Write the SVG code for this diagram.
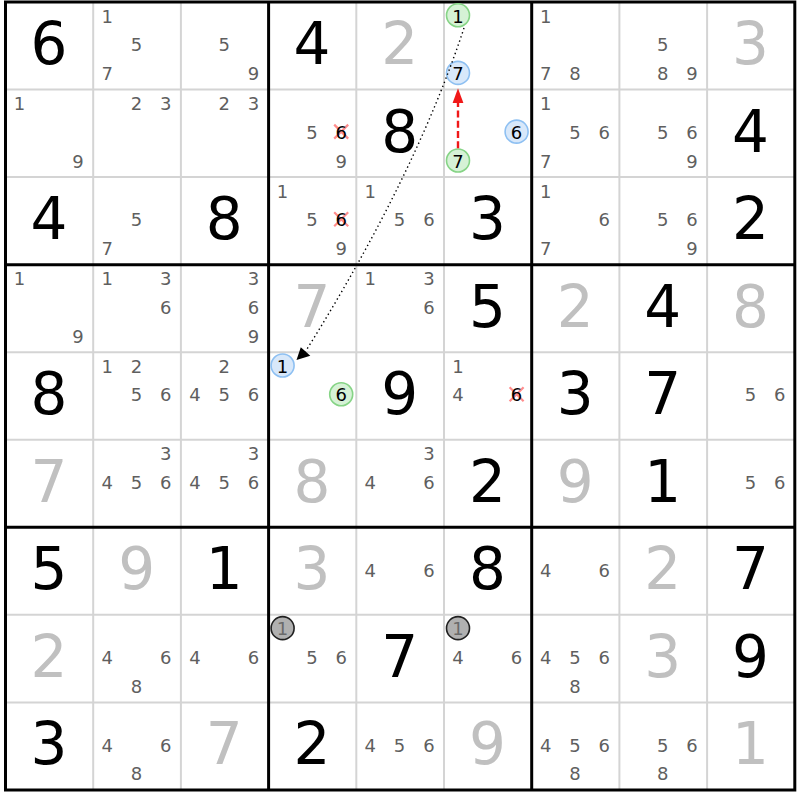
<svg xmlns="http://www.w3.org/2000/svg" width="800" height="800" viewBox="0 0 800 800">
<style>
text{font-family:"DejaVu Sans",Verdana,sans-serif;text-anchor:middle}
.g{font-size:58px;fill:#000}
.s{font-size:58px;fill:#c0c0c0}
.c{font-size:18px;fill:#5f5f5f}
.cb{font-size:18px;fill:#000}
.cg{font-size:18px;fill:#6a6a6a}
.hg{fill:#d6f2d6;stroke:#86d486;stroke-width:1.6}
.hb{fill:#d8e8fa;stroke:#8ec0f2;stroke-width:1.6}
.hk{fill:#b0b0b0;stroke:#202020;stroke-width:1.6}
.x{stroke:#ff8c8c;stroke-width:2.2;fill:none}
.thin{stroke:#d4d4d4;stroke-width:2}
.thick{stroke:#000;stroke-width:3}
</style>
<rect x="0" y="0" width="800" height="800" fill="#fff"/>
<g id="grid">
<g class="thin">
<line x1="93.2" y1="2" x2="93.2" y2="790"/><line x1="180.9" y1="2" x2="180.9" y2="790"/>
<line x1="356.3" y1="2" x2="356.3" y2="790"/><line x1="444" y1="2" x2="444" y2="790"/>
<line x1="619.4" y1="2" x2="619.4" y2="790"/><line x1="707.1" y1="2" x2="707.1" y2="790"/>
<line x1="5.5" y1="89.55" x2="794.8" y2="89.55"/><line x1="5.5" y1="177.1" x2="794.8" y2="177.1"/>
<line x1="5.5" y1="352.2" x2="794.8" y2="352.2"/><line x1="5.5" y1="439.75" x2="794.8" y2="439.75"/>
<line x1="5.5" y1="614.85" x2="794.8" y2="614.85"/><line x1="5.5" y1="702.4" x2="794.8" y2="702.4"/>
</g>
<g class="thick">
<line x1="268.6" y1="2" x2="268.6" y2="790"/><line x1="531.7" y1="2" x2="531.7" y2="790"/>
<line x1="5.5" y1="264.65" x2="794.8" y2="264.65"/><line x1="5.5" y1="527.3" x2="794.8" y2="527.3"/>
<rect x="5.5" y="2" width="789.3" height="788" fill="none"/>
</g>
</g>
<g id="cells">
<!-- row 0 -->
<g id="r0c0" transform="translate(5.5,2)"><text class="g" x="43.4" y="62">6</text></g>
<g id="r0c1" transform="translate(93.2,2)"><text class="c" x="14" y="20.5">1</text><text class="c" x="43.3" y="49.3">5</text><text class="c" x="14" y="78.1">7</text></g>
<g id="r0c2" transform="translate(180.9,2)"><text class="c" x="43.3" y="49.3">5</text><text class="c" x="72.6" y="78.1">9</text></g>
<g id="r0c3" transform="translate(268.6,2)"><text class="g" x="43.4" y="62">4</text></g>
<g id="r0c4" transform="translate(356.3,2)"><text class="s" x="43.4" y="62">2</text></g>
<g id="r0c5" transform="translate(444,2)"><circle class="hg" cx="14" cy="13.3" r="11.5"/><text class="cb" x="14" y="20.5">1</text><circle class="hb" cx="14" cy="70.9" r="11.5"/><text class="cb" x="14" y="78.1">7</text></g>
<g id="r0c6" transform="translate(531.7,2)"><text class="c" x="14" y="20.5">1</text><text class="c" x="14" y="78.1">7</text><text class="c" x="43.3" y="78.1">8</text></g>
<g id="r0c7" transform="translate(619.4,2)"><text class="c" x="43.3" y="49.3">5</text><text class="c" x="43.3" y="78.1">8</text><text class="c" x="72.6" y="78.1">9</text></g>
<g id="r0c8" transform="translate(707.1,2)"><text class="s" x="43.4" y="62">3</text></g>
<!-- row 1 -->
<g id="r1c0" transform="translate(5.5,89.55)"><text class="c" x="14" y="20.5">1</text><text class="c" x="72.6" y="78.1">9</text></g>
<g id="r1c1" transform="translate(93.2,89.55)"><text class="c" x="43.3" y="20.5">2</text><text class="c" x="72.6" y="20.5">3</text></g>
<g id="r1c2" transform="translate(180.9,89.55)"><text class="c" x="43.3" y="20.5">2</text><text class="c" x="72.6" y="20.5">3</text></g>
<g id="r1c3" transform="translate(268.6,89.55)"><text class="c" x="43.3" y="49.3">5</text><path class="x" d="M65.6,35.1L79.6,49.1M79.6,35.1L65.6,49.1"/><text class="cb" x="72.6" y="49.3">6</text><text class="c" x="72.6" y="78.1">9</text></g>
<g id="r1c4" transform="translate(356.3,89.55)"><text class="g" x="43.4" y="62">8</text></g>
<g id="r1c5" transform="translate(444,89.55)"><circle class="hb" cx="72.6" cy="42.1" r="11.5"/><text class="cb" x="72.6" y="49.3">6</text><circle class="hg" cx="14" cy="70.9" r="11.5"/><text class="cb" x="14" y="78.1">7</text></g>
<g id="r1c6" transform="translate(531.7,89.55)"><text class="c" x="14" y="20.5">1</text><text class="c" x="43.3" y="49.3">5</text><text class="c" x="72.6" y="49.3">6</text><text class="c" x="14" y="78.1">7</text></g>
<g id="r1c7" transform="translate(619.4,89.55)"><text class="c" x="43.3" y="49.3">5</text><text class="c" x="72.6" y="49.3">6</text><text class="c" x="72.6" y="78.1">9</text></g>
<g id="r1c8" transform="translate(707.1,89.55)"><text class="g" x="43.4" y="62">4</text></g>
<!-- row 2 -->
<g id="r2c0" transform="translate(5.5,177.1)"><text class="g" x="43.4" y="62">4</text></g>
<g id="r2c1" transform="translate(93.2,177.1)"><text class="c" x="43.3" y="49.3">5</text><text class="c" x="14" y="78.1">7</text></g>
<g id="r2c2" transform="translate(180.9,177.1)"><text class="g" x="43.4" y="62">8</text></g>
<g id="r2c3" transform="translate(268.6,177.1)"><text class="c" x="14" y="20.5">1</text><text class="c" x="43.3" y="49.3">5</text><path class="x" d="M65.6,35.1L79.6,49.1M79.6,35.1L65.6,49.1"/><text class="cb" x="72.6" y="49.3">6</text><text class="c" x="72.6" y="78.1">9</text></g>
<g id="r2c4" transform="translate(356.3,177.1)"><text class="c" x="14" y="20.5">1</text><text class="c" x="43.3" y="49.3">5</text><text class="c" x="72.6" y="49.3">6</text></g>
<g id="r2c5" transform="translate(444,177.1)"><text class="g" x="43.4" y="62">3</text></g>
<g id="r2c6" transform="translate(531.7,177.1)"><text class="c" x="14" y="20.5">1</text><text class="c" x="72.6" y="49.3">6</text><text class="c" x="14" y="78.1">7</text></g>
<g id="r2c7" transform="translate(619.4,177.1)"><text class="c" x="43.3" y="49.3">5</text><text class="c" x="72.6" y="49.3">6</text><text class="c" x="72.6" y="78.1">9</text></g>
<g id="r2c8" transform="translate(707.1,177.1)"><text class="g" x="43.4" y="62">2</text></g>
<!-- row 3 -->
<g id="r3c0" transform="translate(5.5,264.65)"><text class="c" x="14" y="20.5">1</text><text class="c" x="72.6" y="78.1">9</text></g>
<g id="r3c1" transform="translate(93.2,264.65)"><text class="c" x="14" y="20.5">1</text><text class="c" x="72.6" y="20.5">3</text><text class="c" x="72.6" y="49.3">6</text></g>
<g id="r3c2" transform="translate(180.9,264.65)"><text class="c" x="72.6" y="20.5">3</text><text class="c" x="72.6" y="49.3">6</text><text class="c" x="72.6" y="78.1">9</text></g>
<g id="r3c3" transform="translate(268.6,264.65)"><text class="s" x="43.4" y="62">7</text></g>
<g id="r3c4" transform="translate(356.3,264.65)"><text class="c" x="14" y="20.5">1</text><text class="c" x="72.6" y="20.5">3</text><text class="c" x="72.6" y="49.3">6</text></g>
<g id="r3c5" transform="translate(444,264.65)"><text class="g" x="43.4" y="62">5</text></g>
<g id="r3c6" transform="translate(531.7,264.65)"><text class="s" x="43.4" y="62">2</text></g>
<g id="r3c7" transform="translate(619.4,264.65)"><text class="g" x="43.4" y="62">4</text></g>
<g id="r3c8" transform="translate(707.1,264.65)"><text class="s" x="43.4" y="62">8</text></g>
<!-- row 4 -->
<g id="r4c0" transform="translate(5.5,352.2)"><text class="g" x="43.4" y="62">8</text></g>
<g id="r4c1" transform="translate(93.2,352.2)"><text class="c" x="14" y="20.5">1</text><text class="c" x="43.3" y="20.5">2</text><text class="c" x="43.3" y="49.3">5</text><text class="c" x="72.6" y="49.3">6</text></g>
<g id="r4c2" transform="translate(180.9,352.2)"><text class="c" x="43.3" y="20.5">2</text><text class="c" x="14" y="49.3">4</text><text class="c" x="43.3" y="49.3">5</text><text class="c" x="72.6" y="49.3">6</text></g>
<g id="r4c3" transform="translate(268.6,352.2)"><circle class="hb" cx="14" cy="13.3" r="11.5"/><text class="cb" x="14" y="20.5">1</text><circle class="hg" cx="72.6" cy="42.1" r="11.5"/><text class="cb" x="72.6" y="49.3">6</text></g>
<g id="r4c4" transform="translate(356.3,352.2)"><text class="g" x="43.4" y="62">9</text></g>
<g id="r4c5" transform="translate(444,352.2)"><text class="c" x="14" y="20.5">1</text><text class="c" x="14" y="49.3">4</text><path class="x" d="M65.6,35.1L79.6,49.1M79.6,35.1L65.6,49.1"/><text class="cb" x="72.6" y="49.3">6</text></g>
<g id="r4c6" transform="translate(531.7,352.2)"><text class="g" x="43.4" y="62">3</text></g>
<g id="r4c7" transform="translate(619.4,352.2)"><text class="g" x="43.4" y="62">7</text></g>
<g id="r4c8" transform="translate(707.1,352.2)"><text class="c" x="43.3" y="49.3">5</text><text class="c" x="72.6" y="49.3">6</text></g>
<!-- row 5 -->
<g id="r5c0" transform="translate(5.5,439.75)"><text class="s" x="43.4" y="62">7</text></g>
<g id="r5c1" transform="translate(93.2,439.75)"><text class="c" x="72.6" y="20.5">3</text><text class="c" x="14" y="49.3">4</text><text class="c" x="43.3" y="49.3">5</text><text class="c" x="72.6" y="49.3">6</text></g>
<g id="r5c2" transform="translate(180.9,439.75)"><text class="c" x="72.6" y="20.5">3</text><text class="c" x="14" y="49.3">4</text><text class="c" x="43.3" y="49.3">5</text><text class="c" x="72.6" y="49.3">6</text></g>
<g id="r5c3" transform="translate(268.6,439.75)"><text class="s" x="43.4" y="62">8</text></g>
<g id="r5c4" transform="translate(356.3,439.75)"><text class="c" x="72.6" y="20.5">3</text><text class="c" x="14" y="49.3">4</text><text class="c" x="72.6" y="49.3">6</text></g>
<g id="r5c5" transform="translate(444,439.75)"><text class="g" x="43.4" y="62">2</text></g>
<g id="r5c6" transform="translate(531.7,439.75)"><text class="s" x="43.4" y="62">9</text></g>
<g id="r5c7" transform="translate(619.4,439.75)"><text class="g" x="43.4" y="62">1</text></g>
<g id="r5c8" transform="translate(707.1,439.75)"><text class="c" x="43.3" y="49.3">5</text><text class="c" x="72.6" y="49.3">6</text></g>
<!-- row 6 -->
<g id="r6c0" transform="translate(5.5,527.3)"><text class="g" x="43.4" y="62">5</text></g>
<g id="r6c1" transform="translate(93.2,527.3)"><text class="s" x="43.4" y="62">9</text></g>
<g id="r6c2" transform="translate(180.9,527.3)"><text class="g" x="43.4" y="62">1</text></g>
<g id="r6c3" transform="translate(268.6,527.3)"><text class="s" x="43.4" y="62">3</text></g>
<g id="r6c4" transform="translate(356.3,527.3)"><text class="c" x="14" y="49.3">4</text><text class="c" x="72.6" y="49.3">6</text></g>
<g id="r6c5" transform="translate(444,527.3)"><text class="g" x="43.4" y="62">8</text></g>
<g id="r6c6" transform="translate(531.7,527.3)"><text class="c" x="14" y="49.3">4</text><text class="c" x="72.6" y="49.3">6</text></g>
<g id="r6c7" transform="translate(619.4,527.3)"><text class="s" x="43.4" y="62">2</text></g>
<g id="r6c8" transform="translate(707.1,527.3)"><text class="g" x="43.4" y="62">7</text></g>
<!-- row 7 -->
<g id="r7c0" transform="translate(5.5,614.85)"><text class="s" x="43.4" y="62">2</text></g>
<g id="r7c1" transform="translate(93.2,614.85)"><text class="c" x="14" y="49.3">4</text><text class="c" x="72.6" y="49.3">6</text><text class="c" x="43.3" y="78.1">8</text></g>
<g id="r7c2" transform="translate(180.9,614.85)"><text class="c" x="14" y="49.3">4</text><text class="c" x="72.6" y="49.3">6</text></g>
<g id="r7c3" transform="translate(268.6,614.85)"><circle class="hk" cx="14" cy="13.3" r="11.5"/><text class="cg" x="14" y="20.5">1</text><text class="c" x="43.3" y="49.3">5</text><text class="c" x="72.6" y="49.3">6</text></g>
<g id="r7c4" transform="translate(356.3,614.85)"><text class="g" x="43.4" y="62">7</text></g>
<g id="r7c5" transform="translate(444,614.85)"><circle class="hk" cx="14" cy="13.3" r="11.5"/><text class="cg" x="14" y="20.5">1</text><text class="c" x="14" y="49.3">4</text><text class="c" x="72.6" y="49.3">6</text></g>
<g id="r7c6" transform="translate(531.7,614.85)"><text class="c" x="14" y="49.3">4</text><text class="c" x="43.3" y="49.3">5</text><text class="c" x="72.6" y="49.3">6</text><text class="c" x="43.3" y="78.1">8</text></g>
<g id="r7c7" transform="translate(619.4,614.85)"><text class="s" x="43.4" y="62">3</text></g>
<g id="r7c8" transform="translate(707.1,614.85)"><text class="g" x="43.4" y="62">9</text></g>
<!-- row 8 -->
<g id="r8c0" transform="translate(5.5,702.4)"><text class="g" x="43.4" y="62">3</text></g>
<g id="r8c1" transform="translate(93.2,702.4)"><text class="c" x="14" y="49.3">4</text><text class="c" x="72.6" y="49.3">6</text><text class="c" x="43.3" y="78.1">8</text></g>
<g id="r8c2" transform="translate(180.9,702.4)"><text class="s" x="43.4" y="62">7</text></g>
<g id="r8c3" transform="translate(268.6,702.4)"><text class="g" x="43.4" y="62">2</text></g>
<g id="r8c4" transform="translate(356.3,702.4)"><text class="c" x="14" y="49.3">4</text><text class="c" x="43.3" y="49.3">5</text><text class="c" x="72.6" y="49.3">6</text></g>
<g id="r8c5" transform="translate(444,702.4)"><text class="s" x="43.4" y="62">9</text></g>
<g id="r8c6" transform="translate(531.7,702.4)"><text class="c" x="14" y="49.3">4</text><text class="c" x="43.3" y="49.3">5</text><text class="c" x="72.6" y="49.3">6</text><text class="c" x="43.3" y="78.1">8</text></g>
<g id="r8c7" transform="translate(619.4,702.4)"><text class="c" x="43.3" y="49.3">5</text><text class="c" x="72.6" y="49.3">6</text><text class="c" x="43.3" y="78.1">8</text></g>
<g id="r8c8" transform="translate(707.1,702.4)"><text class="s" x="43.4" y="62">1</text></g>
</g>
<g id="connectors">
<line x1="458" y1="148.3" x2="458" y2="102.5" stroke="#f01818" stroke-width="2.4" stroke-dasharray="7 3.3"/>
<polygon points="458,88.3 452.6,103 463.4,103" fill="#f01818"/>
<path d="M464,28 Q414.8,177 305.5,351.5" fill="none" stroke="#000" stroke-width="1.4" stroke-dasharray="1.4 3"/>
<polygon points="296.5,360 300.8,347.3 310.3,355.8" fill="#000"/>
</g>
</svg>
